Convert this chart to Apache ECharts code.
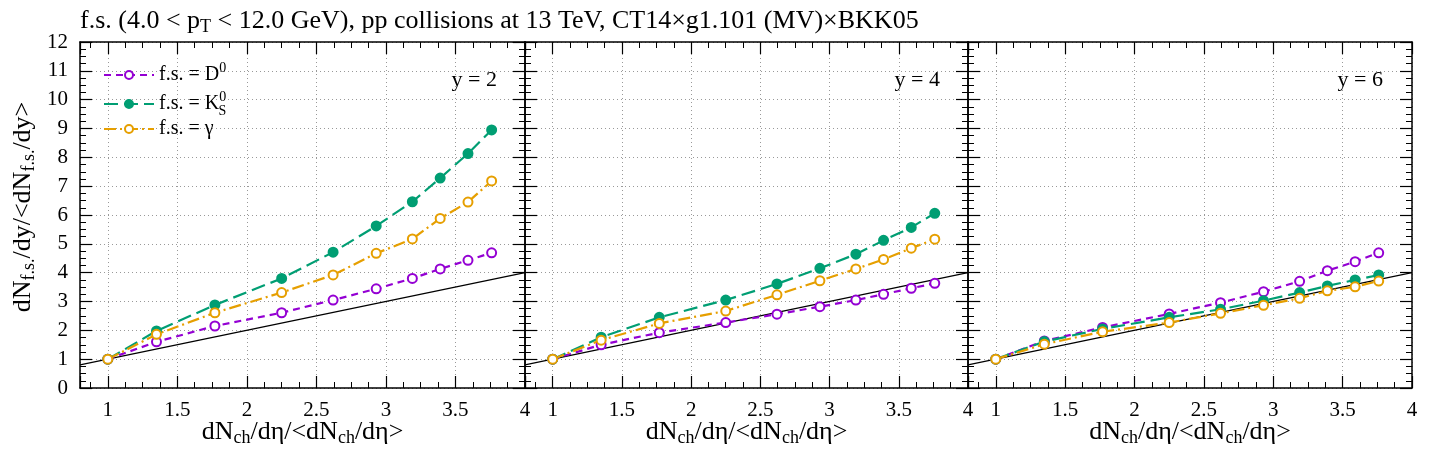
<!DOCTYPE html>
<html>
<head>
<meta charset="utf-8">
<script src="https://cdn.jsdelivr.net/npm/echarts@6/dist/echarts.min.js"></script>
<style>html,body{margin:0;padding:0;background:#fff}#c{width:1440px;height:450px}</style>
</head>
<body>
<div id="c"></div>
<script>
// ---- data ----
const xVals = [1.0, 1.35, 1.77, 2.25, 2.62, 2.93, 3.19, 3.39, 3.59, 3.76];
const panels = ['y = 2', 'y = 4', 'y = 6'];
const y2_D0    = [1.00, 1.60, 2.15, 2.61, 3.05, 3.44, 3.80, 4.13, 4.43, 4.69];
const y2_K0S   = [1.00, 1.98, 2.88, 3.80, 4.71, 5.62, 6.46, 7.28, 8.13, 8.95];
const y2_gamma = [1.00, 1.86, 2.61, 3.31, 3.92, 4.67, 5.17, 5.88, 6.45, 7.18];
const y4_D0    = [1.00, 1.50, 1.92, 2.27, 2.56, 2.82, 3.05, 3.25, 3.46, 3.63];
const y4_K0S   = [1.00, 1.76, 2.45, 3.05, 3.61, 4.15, 4.64, 5.12, 5.57, 6.06];
const y4_gamma = [1.00, 1.66, 2.24, 2.67, 3.23, 3.72, 4.13, 4.46, 4.85, 5.16];
const y6_D0    = [1.00, 1.63, 2.10, 2.57, 2.96, 3.34, 3.70, 4.07, 4.38, 4.69];
const y6_K0S   = [1.00, 1.61, 2.05, 2.45, 2.73, 3.03, 3.31, 3.54, 3.75, 3.92];
const y6_gamma = [1.00, 1.52, 1.95, 2.27, 2.59, 2.87, 3.11, 3.37, 3.51, 3.71];
const refLine = [0.8, 4.0]; // y = x reference line end points
const seriesNames = ['D0', 'K0S', 'gamma'];
const panelData = [[y2_D0, y2_K0S, y2_gamma], [y4_D0, y4_K0S, y4_gamma], [y6_D0, y6_K0S, y6_gamma]];

// ---- styles ----
const FONT = "'Liberation Serif', 'Times New Roman', serif";
const colors = ['#9400D3', '#009E73', '#E69F00'];
const dashes = [[7, 5], [14, 6], [12, 4, 2, 4]];
const symbols = ['emptyCircle', 'circle', 'emptyCircle'];
const grids = [
  {left: 80, width: 445, top: 42, height: 346},
  {left: 525, width: 443, top: 42, height: 346},
  {left: 968, width: 444, top: 42, height: 346}
];
const subRich = {
  m: {fontFamily: FONT, fontSize: 26, lineHeight: 30, color: '#000'},
  s: {fontFamily: FONT, fontSize: 18, lineHeight: 18, padding: [12, 0, 0, 0], color: '#000'}
};
const xName = '{m|dN}{s|ch}{m|/dη/<dN}{s|ch}{m|/dη>}';
const yName = '{m|dN}{s|f.s.}{m|/dy/<dN}{s|f.s.}{m|/dy>}';

const xAxes = [], yAxes = [], series = [];
grids.forEach((g, gi) => {
  ['bottom', 'top'].forEach(pos => {
    const main = pos === 'bottom';
    xAxes.push({
      type: 'value', gridIndex: gi, position: pos, min: 0.8, max: 4.0, splitNumber: 6,
      axisLine: {show: true, onZero: false, lineStyle: {color: '#000', width: 1.5}},
      axisTick: {show: true, inside: true, length: 12, lineStyle: {color: '#000', width: 1.2}},
      minorTick: {show: true, splitNumber: 4, length: 6, lineStyle: {color: '#000', width: 1}},
      axisLabel: {show: main, showMinLabel: false, showMaxLabel: true, fontFamily: FONT, fontSize: 21, color: '#000', margin: 12},
      splitLine: {show: main, lineStyle: {type: [1, 3], color: '#999', width: 1}},
      name: main ? xName : '', nameLocation: 'middle', nameGap: 29, nameMoveOverlap: false,
      nameTextStyle: {rich: subRich}
    });
  });
  ['left', 'right'].forEach(pos => {
    const main = pos === 'left';
    yAxes.push({
      type: 'value', gridIndex: gi, position: pos, min: 0, max: 12, interval: 1,
      axisLine: {show: true, onZero: false, lineStyle: {color: '#000', width: 1.5}},
      axisTick: {show: true, inside: true, length: 12, lineStyle: {color: '#000', width: 1.2}},
      minorTick: {show: true, splitNumber: 4, length: 6, lineStyle: {color: '#000', width: 1}},
      axisLabel: {show: main && gi === 0, fontFamily: FONT, fontSize: 21, color: '#000', margin: 12},
      splitLine: {show: main, lineStyle: {type: [1, 3], color: '#999', width: 1}},
      name: (main && gi === 0) ? yName : '', nameLocation: 'middle', nameGap: 42, nameRotate: 90,
      nameMoveOverlap: false,
      nameTextStyle: {rich: subRich, padding: [0, 0, 0, 16]}
    });
  });
  series.push({
    type: 'line', xAxisIndex: gi * 2, yAxisIndex: gi * 2, silent: true, symbol: 'none',
    data: refLine.map(v => [v, v]), lineStyle: {color: '#000', width: 1.2}, z: 1
  });
  seriesNames.forEach((nm, si) => {
    series.push({
      name: nm, type: 'line', xAxisIndex: gi * 2, yAxisIndex: gi * 2,
      data: xVals.map((x, i) => [x, panelData[gi][si][i]]),
      symbol: symbols[si], symbolSize: 9,
      itemStyle: {color: colors[si], borderColor: colors[si], borderWidth: 2},
      lineStyle: {color: colors[si], width: 2.2, type: dashes[si]},
      z: 3
    });
  });
});

const legendText = {D0: '{t|f.s. = D}{p|0}', K0S: '{t|f.s. = K}{p|0}{b|S}', gamma: '{t|f.s. = γ}'};

const option = {
  animation: false,
  backgroundColor: '#fff',
  grid: grids.map(g => Object.assign({outerBoundsMode: 'none', containLabel: false}, g)),
  title: [
    {text: 'f.s. (4.0 < p{s|T} < 12.0 GeV), pp collisions at 13 TeV, CT14×g1.101 (MV)×BKK05',
     left: 80, top: 7, padding: 0,
     textStyle: {fontFamily: FONT, fontSize: 26, fontWeight: 'normal', color: '#000', lineHeight: 29,
       rich: {s: {fontFamily: FONT, fontSize: 18, lineHeight: 18, padding: [12, 0, 0, 0], color: '#000'}}}}
  ].concat(panels.map((t, i) => ({
    text: t, right: [943, 500, 57][i], top: 69, padding: 0,
    textStyle: {fontFamily: FONT, fontSize: 22, fontWeight: 'normal', color: '#000', lineHeight: 22}
  }))),
  legend: {
    show: true, orient: 'vertical', left: 103, top: 61, padding: 0, itemGap: 1,
    itemWidth: 50, itemHeight: 10, data: seriesNames, selectedMode: false,
    formatter: n => legendText[n],
    textStyle: {fontFamily: FONT, fontSize: 20, color: '#000',
      rich: {
        t: {fontFamily: FONT, fontSize: 20, lineHeight: 27, color: '#000'},
        p: {fontFamily: FONT, fontSize: 14, lineHeight: 14, padding: [0, 0, 14, 0], color: '#000'},
        b: {fontFamily: FONT, fontSize: 14, lineHeight: 14, padding: [14, 0, 0, 0], width: 0, align: 'right', color: '#000'}
      }}
  },
  xAxis: xAxes,
  yAxis: yAxes,
  series: series
};
const chart = echarts.init(document.getElementById('c'), null, {renderer: 'canvas'});
chart.setOption(option);
</script>
</body>
</html>
